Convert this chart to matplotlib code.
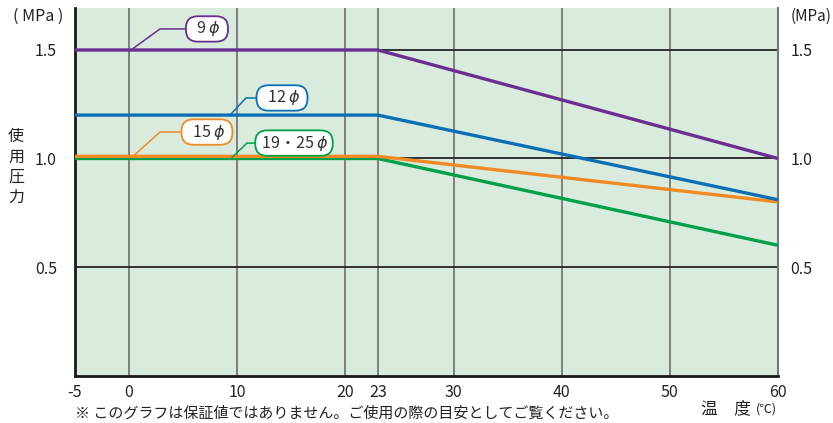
import matplotlib
matplotlib.use("Agg")
import matplotlib.pyplot as plt
import numpy as np

plt.rcParams['font.family'] = ['Noto Sans CJK JP', 'DejaVu Sans']
plt.rcParams['mathtext.fontset'] = 'dejavusans'

# Data
temps = [-5, 23, 60]
series = {
    "9ϕ": [1.5, 1.5, 1.0],
    "12ϕ": [1.2, 1.2, 0.81],
    "15ϕ": [1.01, 1.01, 0.80],
    "19・25ϕ": [1.0, 1.0, 0.60],
}
colors = {
    "9ϕ": "#6b2d8f",
    "12ϕ": "#0a6fb5",
    "15ϕ": "#f18a25",
    "19・25ϕ": "#00a04a",
}
# label placement: (x on line, elbow x, box centre x, box y)
label_pos = {
    "9ϕ": (0.18, 2.86, 7.2, 1.597),
    "12ϕ": (9.33, 10.81, 14.14, 1.279),
    "15ϕ": (0.36, 2.86, 7.2, 1.122),
    "19・25ϕ": (9.42, 10.9, 15.25, 1.071),
}
xticks = [-5, 0, 10, 20, 23, 30, 40, 50, 60]
vgrid = [0, 10, 20, 23, 30, 40, 50]
yticks = [0.5, 1.0, 1.5]

fig = plt.figure(figsize=(8.33, 4.23), dpi=100)
ax = fig.add_axes([75/833, 47.5/423, 703/833, 367.5/423])
ax.set_facecolor("#d8ebdc")
ax.set_xlim(-5, 60)
ax.set_ylim(0, 367.5/217)

for x in vgrid:
    ax.axvline(x, color="#6e6e6e", lw=1.2, zorder=1)
for y in yticks:
    ax.axhline(y, color="#222222", lw=1.3, zorder=1)

label_text = {"9ϕ": "  9 $\\phi$  ", "12ϕ": "  12 $\\phi$  ", "15ϕ": "  15 $\\phi$  ",
              "19・25ϕ": " 19・25 $\\phi$ "}
for name in ["19・25ϕ", "15ϕ", "12ϕ", "9ϕ"]:
    vals = series[name]
    ax.plot(temps, vals, color=colors[name], lw=2.4, zorder=3, solid_capstyle='butt')
    x0, xe, xc, yb = label_pos[name]
    y0 = np.interp(x0, temps, vals)
    ax.plot([x0, xe, xc], [y0, yb, yb], color=colors[name], lw=1.1, zorder=4)
    ax.text(xc, yb, label_text[name], ha="center", va="center", fontsize=11.5,
            color="#333333", zorder=5,
            bbox=dict(boxstyle="round,pad=0.2,rounding_size=0.75", fc="white",
                      ec=colors[name], lw=1.3))

ax.spines["top"].set_visible(False)
ax.spines["left"].set_color("#1a1a1a")
ax.spines["left"].set_linewidth(2)
ax.spines["bottom"].set_color("#1a1a1a")
ax.spines["bottom"].set_linewidth(2)
ax.spines["right"].set_color("#777777")
ax.spines["right"].set_linewidth(1.5)

ax.set_xticks(xticks)
ax.set_xticklabels([str(t) for t in xticks])
ax.set_yticks(yticks)
ax.set_yticklabels(["0.5", "1.0", "1.5"])
ax.tick_params(axis="both", length=0, labelsize=11.5, colors="#222222")
ax.tick_params(axis="y", pad=13)
ax.tick_params(axis="x", pad=6)

ax2 = ax.twinx()
ax2.set_ylim(ax.get_ylim())
ax2.set_yticks(yticks)
ax2.set_yticklabels(["0.5", "1.0", "1.5"])
ax2.tick_params(axis="y", length=0, labelsize=11.5, colors="#222222", pad=9)
for s in ax2.spines.values():
    s.set_visible(False)

fig.text(38/833, 1 - 16/423, "( MPa )", ha="center", va="center", fontsize=11.5, color="#222222")
fig.text(831/833, 1 - 16/423, "(MPa)", ha="right", va="center", fontsize=11, color="#222222")
for i, ch in enumerate("使用圧力"):
    fig.text(16/833, 1 - (137 + i*20)/423, ch, ha="center", va="center", fontsize=11.5, color="#222222")

fig.text(75/833, 1 - 413/423, "※ このグラフは保証値ではありません。ご使用の際の目安としてご覧ください。",
         ha="left", va="center", fontsize=10.8, color="#222222")
fig.text(701/833, 1 - 409/423, "温　度", ha="left", va="center", fontsize=12, color="#222222")
fig.text(756/833, 1 - 409/423, "(℃)", ha="left", va="center", fontsize=9, color="#222222")

fig.savefig("out.png", dpi=100)
